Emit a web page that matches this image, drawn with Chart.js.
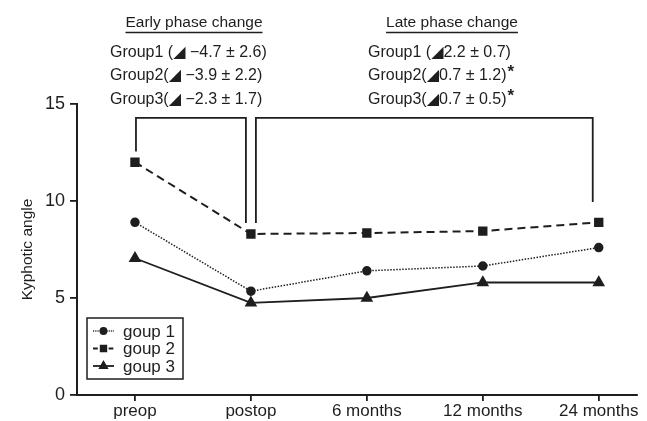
<!DOCTYPE html>
<html>
<head>
<meta charset="utf-8">
<script src="https://cdn.jsdelivr.net/npm/chart.js@4"></script>
<style>
  html, body { margin: 0; padding: 0; background: #fff; overflow: hidden; }
  #wrap { width: 647px; height: 421px; }
</style>
</head>
<body>
<div id="wrap"><canvas id="kyphChart" width="647" height="421"></canvas></div>
<script>
// data
const categories = ['preop', 'postop', '6 months', '12 months', '24 months'];
const group1 = [8.9, 5.35, 6.4, 6.65, 7.6];
const group2 = [12.0, 8.3, 8.35, 8.45, 8.9];
const group3 = [7.05, 4.75, 5.0, 5.8, 5.8];
const yTicks = [0, 5, 10, 15];
const legendLabels = ['goup 1', 'goup 2', 'goup 3'];

const earlyTitle = 'Early phase change';
const earlyRows = ['Group1 (\u25E2 \u22124.7 \u00B1 2.6)', 'Group2(\u25E2 \u22123.9 \u00B1 2.2)', 'Group3(\u25E2 \u22122.3 \u00B1 1.7)'];
const lateTitle = 'Late phase change';
const lateRows = ['Group1 (\u25E22.2 \u00B1 0.7)', 'Group2(\u25E20.7 \u00B1 1.2)', 'Group3(\u25E20.7 \u00B1 0.5)'];
const lateStars = [false, true, true];

const ink = '#1e1e1e';
const fontFam = "'Liberation Sans', Arial, 'DejaVu Sans', sans-serif";

const toPoints = arr => arr.map((v, i) => ({ x: i, y: v }));

// brackets + phase text on top
const annotations = {
    id: 'annotations',
    afterDraw(chart) {
        const ctx = chart.ctx;
        const xs = chart.scales.x, ys = chart.scales.y;
        const px = i => xs.getPixelForValue(i);
        const py = v => ys.getPixelForValue(v);
        ctx.save();
        ctx.strokeStyle = ink;
        ctx.lineWidth = 1.8;
        const top = py(14.28);
        // early bracket
        ctx.beginPath();
        ctx.moveTo(px(0) + 1, py(12.55));
        ctx.lineTo(px(0) + 1, top);
        ctx.lineTo(px(1) - 5, top);
        ctx.lineTo(px(1) - 5, py(8.87));
        ctx.stroke();
        // late bracket
        ctx.beginPath();
        ctx.moveTo(px(1) + 5, py(8.87));
        ctx.lineTo(px(1) + 5, top);
        ctx.lineTo(px(4) - 6, top);
        ctx.lineTo(px(4) - 6, py(9.95));
        ctx.stroke();

        ctx.fillStyle = ink;
        ctx.textBaseline = 'middle';
        // titles (underlined)
        ctx.font = '15.5px ' + fontFam;
        ctx.textAlign = 'center';
        [[earlyTitle, 194], [lateTitle, 452]].forEach(([t, cx]) => {
            ctx.fillText(t, cx, 23);
            const w = ctx.measureText(t).width;
            ctx.lineWidth = 1.5;
            ctx.beginPath();
            ctx.moveTo(cx - w / 2, 32.5);
            ctx.lineTo(cx + w / 2, 32.5);
            ctx.stroke();
        });
        // rows
        ctx.font = '16px ' + fontFam;
        ctx.textAlign = 'left';
        const rowY = [53, 76, 100];
        earlyRows.forEach((t, i) => ctx.fillText(t, 110, rowY[i]));
        lateRows.forEach((t, i) => {
            ctx.fillText(t, 368, rowY[i]);
            if (lateStars[i]) {
                const w = ctx.measureText(t).width;
                ctx.font = 'bold 17px ' + fontFam;
                ctx.fillText('*', 368 + w + 1, rowY[i] - 4);
                ctx.font = '16px ' + fontFam;
            }
        });
        ctx.restore();
    }
};

// boxed legend in the lower left
const boxLegend = {
    id: 'boxLegend',
    afterDraw(chart) {
        const ctx = chart.ctx;
        ctx.save();
        ctx.strokeStyle = ink;
        ctx.lineWidth = 1.5;
        ctx.strokeRect(87, 318, 96, 61);
        ctx.font = '17px ' + fontFam;
        ctx.textBaseline = 'middle';
        ctx.textAlign = 'left';
        const rowY = [331, 348.5, 366];
        chart.data.datasets.forEach((ds, i) => {
            const y = rowY[i];
            ctx.save();
            ctx.strokeStyle = ink;
            ctx.lineWidth = ds.borderWidth;
            ctx.setLineDash(ds.borderDash ? ds.borderDash.map(d => d * 0.6) : []);
            ctx.beginPath();
            ctx.moveTo(93, y);
            ctx.lineTo(114, y);
            ctx.stroke();
            ctx.restore();
            ctx.fillStyle = ink;
            Chart.helpers.drawPoint(ctx, {
                pointStyle: ds.pointStyle,
                radius: ds.pointRadius * 0.8,
                borderWidth: 1
            }, 103.5, y);
            ctx.fill();
            ctx.fillText(legendLabels[i], 123, y + 1);
        });
        ctx.restore();
    }
};

const lineStyle = {
    borderColor: ink,
    backgroundColor: ink,
    pointBackgroundColor: ink,
    pointBorderColor: ink,
    fill: false,
    tension: 0
};

new Chart(document.getElementById('kyphChart'), {
    type: 'line',
    data: {
        datasets: [
            { ...lineStyle, label: legendLabels[0], data: toPoints(group1), borderWidth: 1.5, borderDash: [1.5, 1.5], pointStyle: 'circle', pointRadius: 4 },
            { ...lineStyle, label: legendLabels[1], data: toPoints(group2), borderWidth: 2, borderDash: [8, 5], pointStyle: 'rect', pointRadius: 5.2 },
            { ...lineStyle, label: legendLabels[2], data: toPoints(group3), borderWidth: 1.8, pointStyle: 'triangle', pointRadius: 5.5 }
        ]
    },
    options: {
        responsive: false,
        animation: false,
        layout: { padding: { top: 104, right: 10, left: 0, bottom: 0 } },
        plugins: {
            legend: { display: false },
            tooltip: { enabled: false }
        },
        scales: {
            x: {
                type: 'linear',
                min: -0.5,
                max: 4.33,
                afterBuildTicks: s => { s.ticks = categories.map((c, i) => ({ value: i })); },
                afterFit: s => { s.height = 26; },
                ticks: {
                    callback: v => categories[v],
                    color: ink,
                    font: { family: fontFam, size: 17 },
                    padding: 0,
                    maxRotation: 0,
                    autoSkip: false
                },
                grid: { drawOnChartArea: false, drawTicks: true, tickLength: 6, color: ink, lineWidth: 1.8 },
                border: { display: true, color: ink, width: 2 }
            },
            y: {
                min: 0,
                max: 15,
                afterBuildTicks: s => { s.ticks = yTicks.map(v => ({ value: v })); },
                afterFit: s => { s.width = 77; },
                ticks: {
                    color: ink,
                    font: { family: fontFam, size: 18 },
                    padding: 5
                },
                title: {
                    display: true,
                    text: 'Kyphotic angle',
                    color: ink,
                    font: { family: fontFam, size: 15.5 },
                    padding: { top: 18, bottom: 0 }
                },
                grid: { drawOnChartArea: false, drawTicks: true, tickLength: 7, color: ink, lineWidth: 1.8 },
                border: { display: true, color: ink, width: 2 }
            }
        }
    },
    plugins: [annotations, boxLegend]
});
</script>
</body>
</html>
